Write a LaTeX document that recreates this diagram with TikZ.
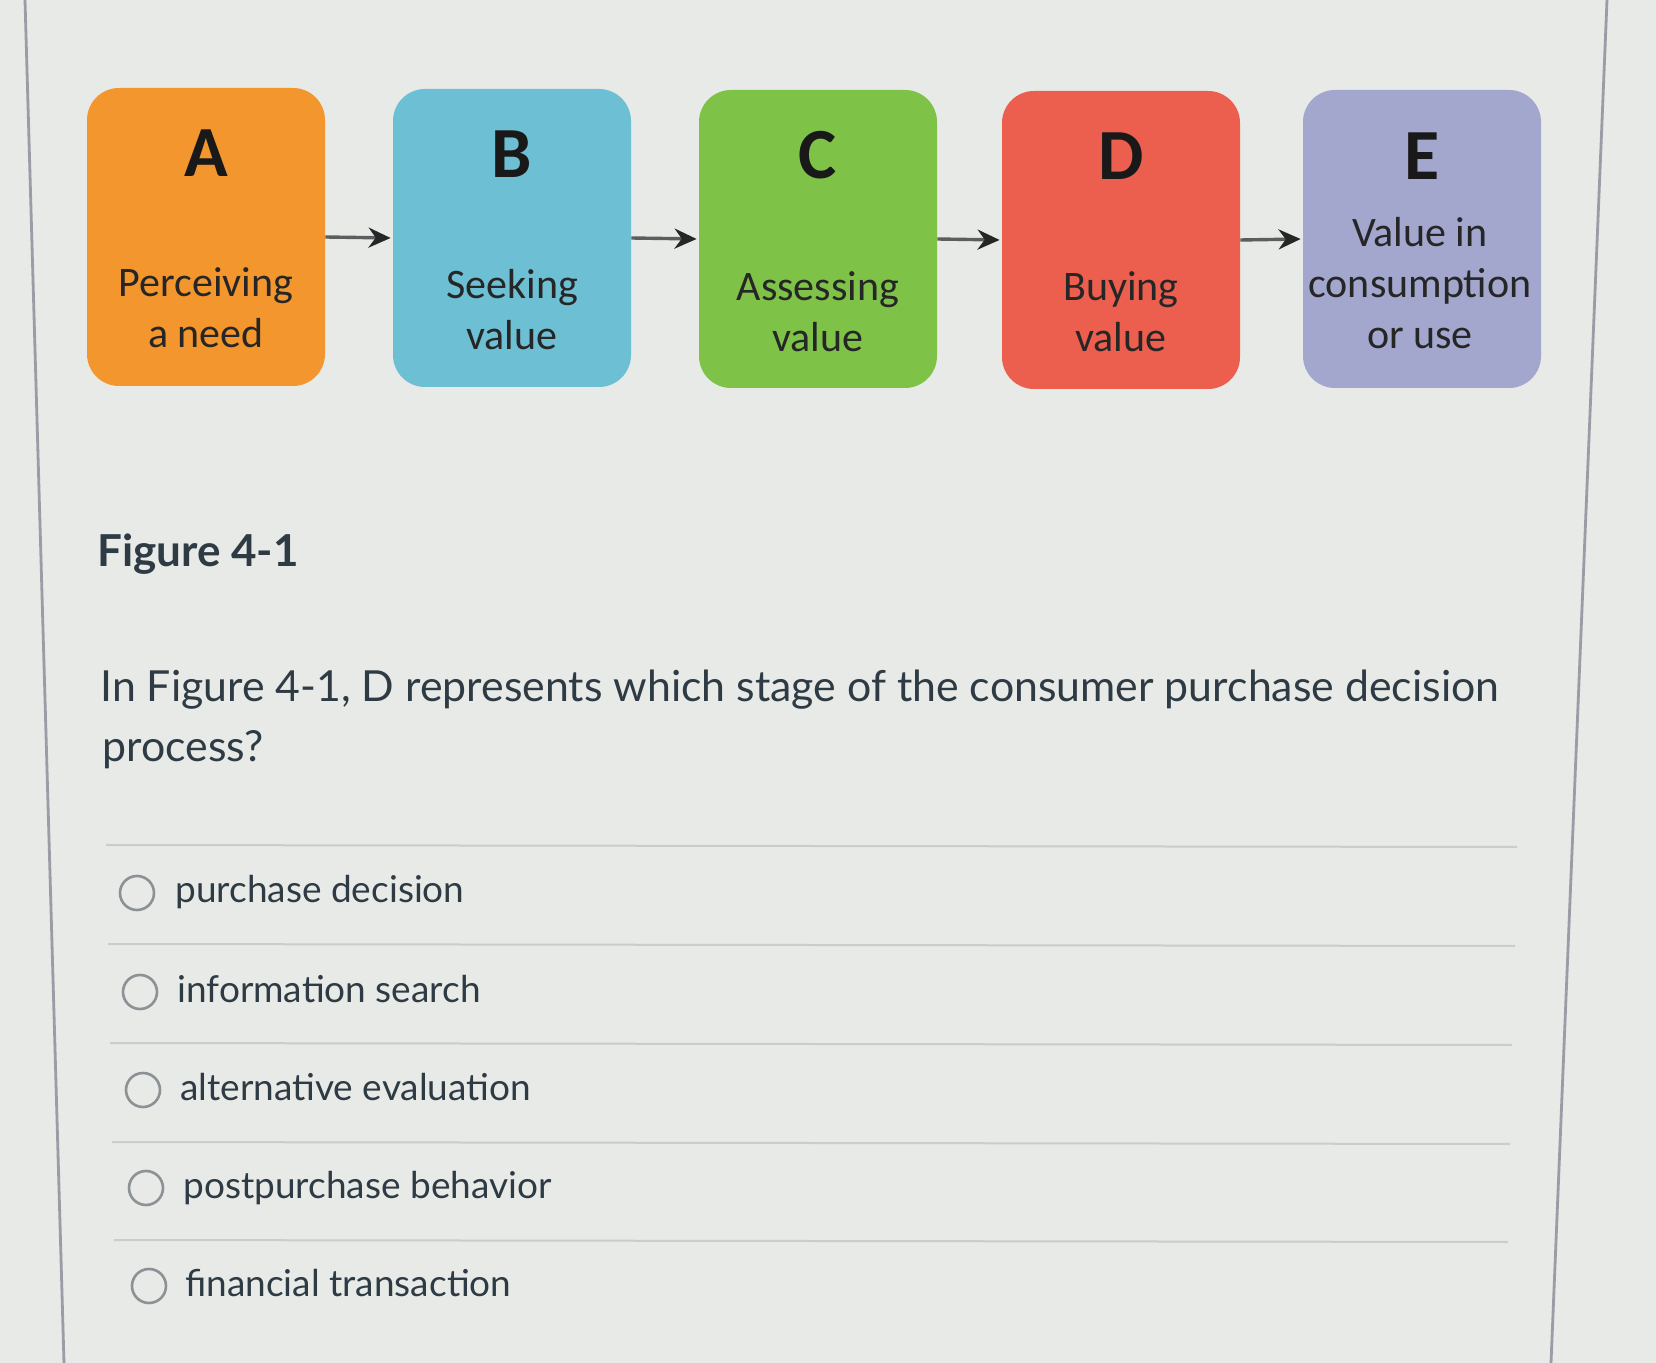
\documentclass[tikz,border=0pt]{standalone}
\usepackage{fontspec}
\setmainfont{Lato}
\newfontfamily\boxfont{Carlito}
\usetikzlibrary{arrows.meta}
\definecolor{bg}{HTML}{E7EAE6}
\definecolor{borderc}{HTML}{9A9CA6}
\definecolor{orangeA}{HTML}{F4962E}
\definecolor{blueB}{HTML}{6DBFD3}
\definecolor{greenC}{HTML}{7EC247}
\definecolor{redD}{HTML}{EC5E4E}
\definecolor{purpleE}{HTML}{A3A7CE}
\definecolor{boxtext}{HTML}{262626}
\definecolor{qtext}{HTML}{2F3B44}
\definecolor{sepc}{HTML}{C9CDCB}
\definecolor{radioc}{HTML}{8C9195}
\definecolor{arrline}{HTML}{5A5E5E}
\tikzset{
  stage/.style={rounded corners=16pt, minimum width=119pt, minimum height=149pt, inner sep=0pt},
  letter/.style={font=\boxfont\bfseries\fontsize{36}{40}\selectfont, text=black!90, inner sep=0pt},
  stagelabel/.style={font=\boxfont\fontsize{21}{25.5}\selectfont, text=boxtext, align=center, inner sep=0pt},
  arr/.style={draw=arrline, line width=1.7pt, -{Stealth[length=11pt,width=10pt,color=black!85]}, shorten >=1pt},
  border/.style={draw=borderc, line width=1.4pt},
  sep/.style={draw=sepc, line width=1pt},
  radio/.style={circle, draw=radioc, line width=1.3pt, minimum size=17pt, inner sep=0pt},
  opt/.style={font=\fontsize{18.5}{22}\selectfont, text=qtext, anchor=base west, inner sep=0pt},
  qline/.style={font=\fontsize{21.4}{30}\selectfont, text=qtext, anchor=base west, inner sep=0pt}
}
\begin{document}
\begin{tikzpicture}[x=0.5pt,y=-0.5pt]
\useasboundingbox (0,0) rectangle (1656,1363);
\fill[bg] (0,0) rectangle (1656,1363);
\draw[border] (25,0) -- (64,1363);
\draw[border] (1607,0) -- (1551,1363);

% stage boxes
\node[stage, fill=orangeA] (A) at (206,237) {};
\node[stage, fill=blueB]   (B) at (512,238) {};
\node[stage, fill=greenC]  (C) at (818,239) {};
\node[stage, fill=redD]    (D) at (1121,240) {};
\node[stage, fill=purpleE] (E) at (1422,239) {};

\node[letter] (Al) at (206,153) {A};
\node[letter] (Bl) at (512,154) {B};
\node[letter] (Cl) at (818,155) {C};
\node[letter] (Dl) at (1121,156) {D};
\node[letter] (El) at (1422,156) {E};

\node[stagelabel] (At) at (206,308) {Perceiving\\a need};
\node[stagelabel] (Bt) at (512,310) {Seeking\\value};
\node[stagelabel] (Ct) at (818,312) {Assessing\\value};
\node[stagelabel] (Dt) at (1121,312) {Buying\\value};
\node[stagelabel] (Et) at (1420,283) {Value in\\consumption\\or use};

\draw[arr] (A.east) -- (B.west);
\draw[arr] (B.east) -- (C.west);
\draw[arr] (C.east) -- (D.west);
\draw[arr] (D.east) -- (E.west);

% caption and question
\node[font=\bfseries\fontsize{22}{26}\selectfont, text=qtext, anchor=base west, inner sep=0pt] (fig) at (97,567) {Figure 4-1};
\node[qline] (q1) at (100,702) {In Figure 4-1, D represents which stage of the consumer purchase decision};
\node[qline] (q2) at (102,762) {process?};

% separators
\draw[sep] (106,845) -- (1517,847);
\draw[sep] (108,944) -- (1515,946);
\draw[sep] (110,1043) -- (1512,1045);
\draw[sep] (112,1142) -- (1510,1144);
\draw[sep] (114,1240) -- (1508,1242);

% options
\node[radio] (r1) at (137,893) {};
\node[radio] (r2) at (140,992) {};
\node[radio] (r3) at (143,1090) {};
\node[radio] (r4) at (146,1188) {};
\node[radio] (r5) at (149,1286) {};
\node[opt] (o1) at (175,903) {purchase decision};
\node[opt] (o2) at (177,1002) {information search};
\node[opt] (o3) at (180,1100) {alternative evaluation};
\node[opt] (o4) at (183,1198) {postpurchase behavior};
\node[opt] (o5) at (185,1296) {financial transaction};
\end{tikzpicture}
\end{document}
